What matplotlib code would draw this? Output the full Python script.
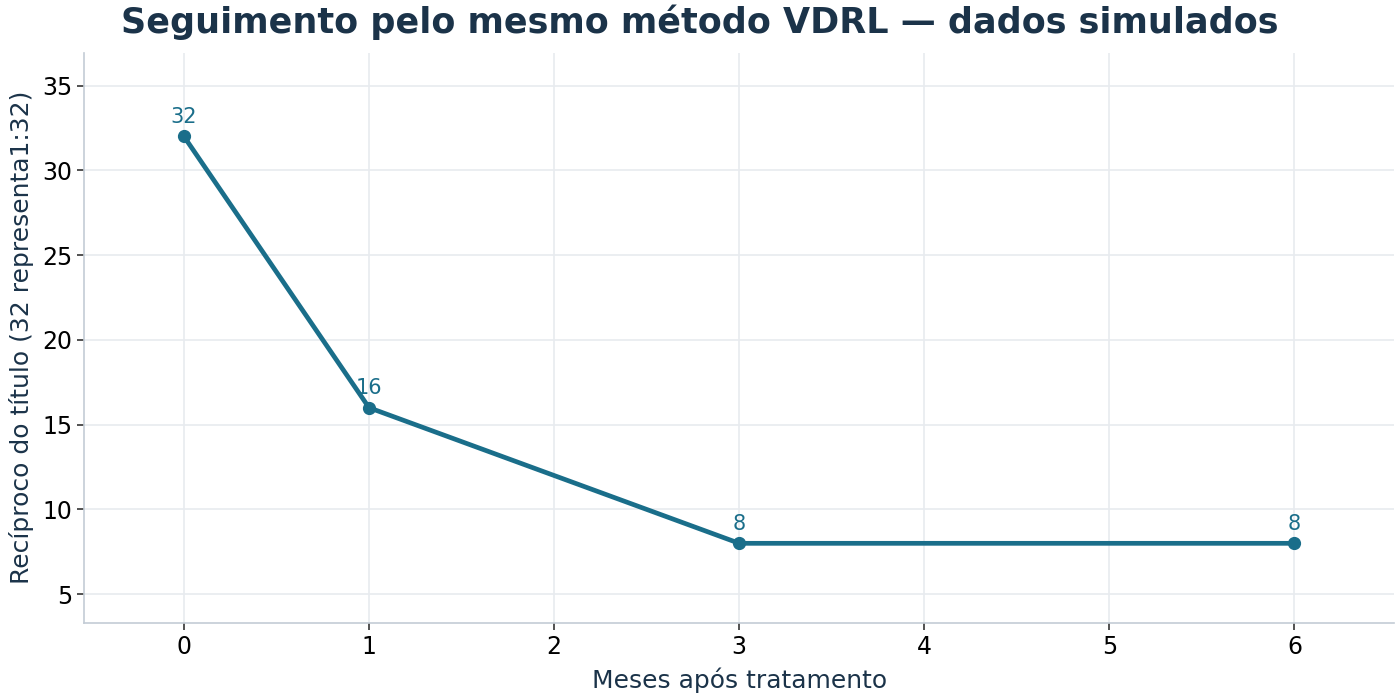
import matplotlib
matplotlib.use("Agg")
import matplotlib.pyplot as plt

meses = [0, 1, 3, 6]
reciproco = [32, 16, 8, 8]
rotulos = ["32", "16", "8", "8"]

titulo = "Seguimento pelo mesmo método VDRL — dados simulados"
xlabel = "Meses após tratamento"
ylabel = "Recíproco do título (32 representa1:32)"

line_color = "#1a6e8a"
dark = "#1b3349"

fig, ax = plt.subplots(figsize=(14, 7), dpi=100)
fig.subplots_adjust(left=0.06, right=0.996, top=0.925, bottom=0.11)

ax.plot(meses, reciproco, color=line_color, lw=3.4, marker="o", ms=8.5, zorder=3)
for x, y, t in zip(meses, reciproco, rotulos):
    ax.annotate(t, (x, y), xytext=(0, 7), textcoords="offset points",
                ha="center", va="bottom", fontsize=15, color=line_color)

ax.set_xlim(-0.54, 6.54)
ax.set_ylim(3.3, 36.95)
ax.set_xticks(range(0, 7))
ax.set_yticks([5, 10, 15, 20, 25, 30, 35])
ax.grid(True, color="#e8ebef", lw=1.2)
ax.set_axisbelow(True)
for s in ["top", "right"]:
    ax.spines[s].set_visible(False)
for s in ["left", "bottom"]:
    ax.spines[s].set_color("#c3ccd5")
    ax.spines[s].set_linewidth(1.2)
ax.tick_params(axis="both", labelsize=17, color="#333333", length=5, width=1.2, labelcolor="black")

fig.suptitle(titulo, fontsize=25.2, fontweight="bold", color=dark, x=0.5, y=0.968, va="center")
ax.set_xlabel(xlabel, fontsize=18, color=dark, labelpad=6)
ax.set_ylabel(ylabel, fontsize=18, color=dark, labelpad=6)

fig.savefig("out.png", dpi=100)
